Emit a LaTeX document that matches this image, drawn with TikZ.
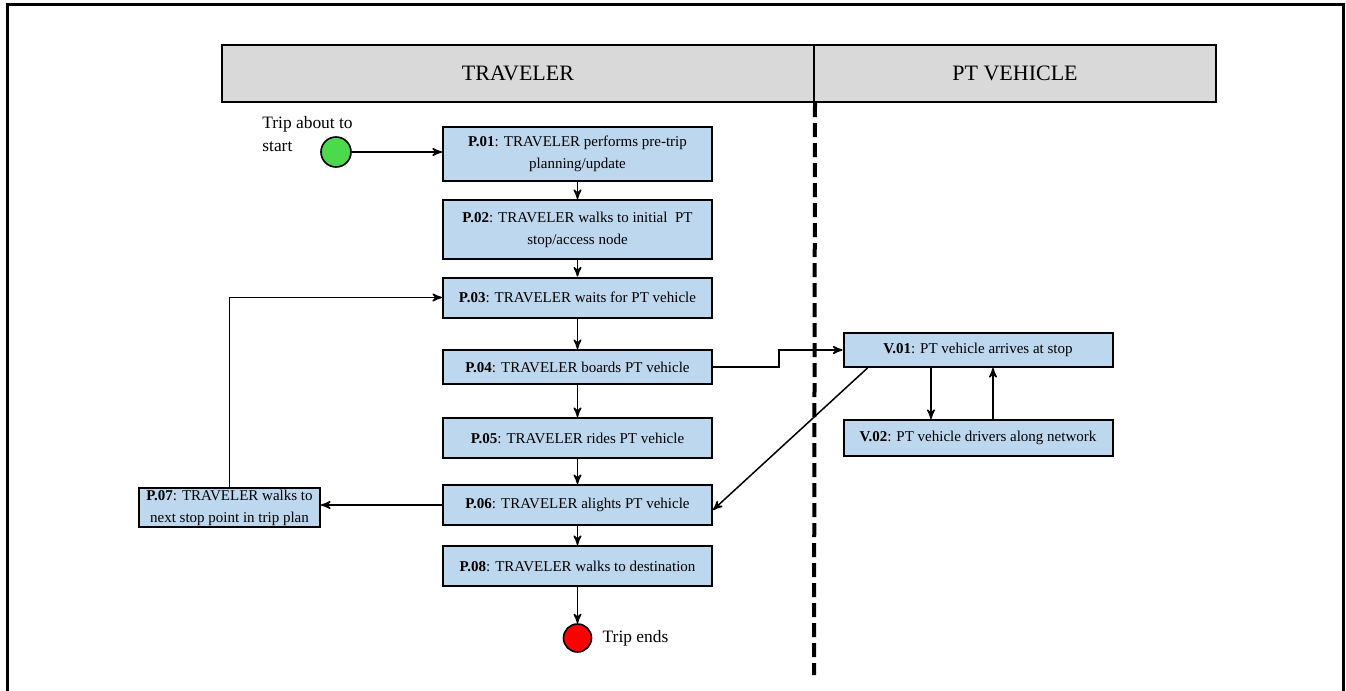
\documentclass[tikz,border=0pt]{standalone}
\usepackage{fontspec}
\setmainfont{Liberation Serif}
\usepackage{tikz}
\usetikzlibrary{arrows,positioning}
\definecolor{boxblue}{RGB}{189,215,238}
\definecolor{lanegray}{RGB}{217,217,217}
\definecolor{startgreen}{RGB}{76,217,76}

\begin{document}
\begin{tikzpicture}[x=0.5pt,y=-0.5pt,>=stealth',
  proc/.style={draw,line width=1pt,fill=boxblue,minimum width=134.5pt,align=center,inner sep=1pt,font=\fontsize{7.5}{11}\selectfont},
  lane/.style={draw,line width=1pt,fill=lanegray,minimum height=28.5pt,font=\fontsize{11}{13}\selectfont},
  dot/.style={circle,draw,line width=0.8pt,minimum size=14pt,inner sep=0pt},
  note/.style={inner sep=0pt,font=\fontsize{8.7}{11.5}\selectfont}]
\useasboundingbox (0,0) rectangle (1346,691);
\draw[line width=1.5pt] (7,691) -- (7,4) -- (1343,4) -- (1343,691);

\node[lane,minimum width=296pt] (trav) at (518,73.5) {TRAVELER};
\node[lane,minimum width=201pt] (veh) at (1015,73.5) {PT VEHICLE};
\coordinate (sep) at (814,675);
\draw[line width=2pt,dash pattern=on 7pt off 3pt] (trav.south east) -- (sep);

\node[proc,minimum height=27pt] (p01) at (577.5,154) {\textbf{P.01}: TRAVELER performs pre-trip\\planning/update};
\node[proc,minimum height=29.5pt] (p02) at (577.5,229.5) {\textbf{P.02}: TRAVELER walks to initial\ \ PT\\stop/access node};
\node[proc,minimum height=20pt] (p03) at (577.5,297.5) {\textbf{P.03}: TRAVELER waits for PT vehicle};
\node[proc,minimum height=17pt] (p04) at (577.5,367) {\textbf{P.04}: TRAVELER boards PT vehicle};
\node[proc,minimum height=20pt] (p05) at (577.5,438) {\textbf{P.05}: TRAVELER rides PT vehicle};
\node[proc,minimum height=20pt] (p06) at (577.5,505) {\textbf{P.06}: TRAVELER alights PT vehicle};
\node[proc,minimum height=20pt] (p08) at (577.5,566) {\textbf{P.08}: TRAVELER walks to destination};
\node[proc,minimum width=90.5pt,minimum height=19.5pt] (p07) at (229.5,507.5) {\textbf{P.07}: TRAVELER walks to\\next stop point in trip plan};
\node[proc,minimum height=17pt] (v01) at (978,350) {\textbf{V.01}: PT vehicle arrives at stop};
\node[proc,minimum height=18pt] (v02) at (978,438) {\textbf{V.02}: PT vehicle drivers along network};

\node[dot,fill=startgreen,minimum size=15pt] (start) at (336,152) {};
\node[dot,fill=red] (end) at (577.5,638) {};
\node[note,anchor=north west,align=left] (startlbl) at (262,116) {Trip about to\\start};
\node[note,right=5pt of end] (endlbl) {Trip ends};

\path[->,line width=0.75pt]
(p01) edge (p02)
(p02) edge (p03)
(p03) edge (p04)
(p04) edge (p05)
(p05) edge (p06)
(p06) edge (p08)
(p08) edge (end);
\draw[->,line width=0.75pt] (start) -- (start -| p01.west);
\draw[->,line width=0.75pt] (p04.east) -- +(66,0) |- (v01.west);
\draw[->,line width=0.75pt] ([xshift=12.5pt]v01.south west) -- ([yshift=-2.5pt]p06.east);
\draw[->,line width=0.75pt] ([xshift=-23.5pt]v01.south) -- ([xshift=-23.5pt]v02.north);
\draw[->,line width=0.75pt] ([xshift=7.5pt]v02.north) -- ([xshift=7.5pt]v01.south);
\draw[->,line width=0.75pt] (p06) -- (p06 -| p07.east);
\draw[->,line width=0.75pt] (p07) |- (p03);
\end{tikzpicture}
\end{document}
